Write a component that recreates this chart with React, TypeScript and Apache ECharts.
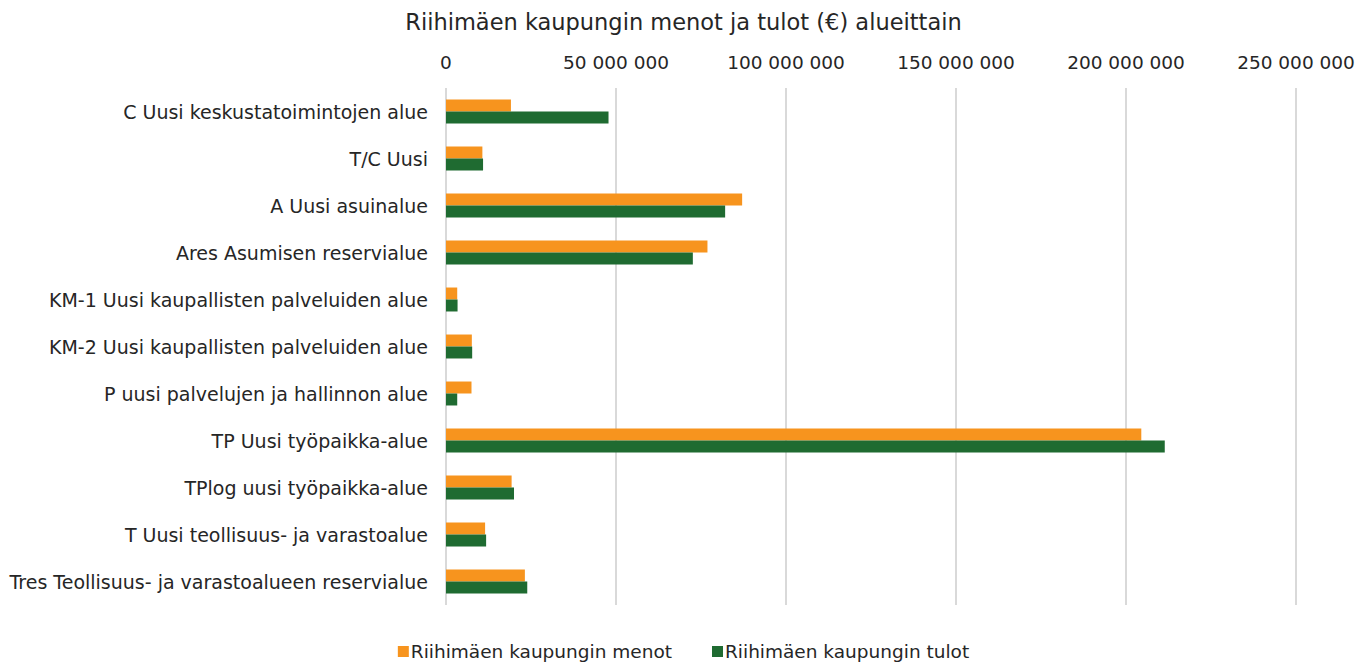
import React, { useEffect, useRef } from "react";
import * as echarts from "echarts";

const categories = [
  "C Uusi keskustatoimintojen alue",
  "T/C Uusi",
  "A Uusi asuinalue",
  "Ares Asumisen reservialue",
  "KM-1 Uusi kaupallisten palveluiden alue",
  "KM-2 Uusi kaupallisten palveluiden alue",
  "P uusi palvelujen ja hallinnon alue",
  "TP Uusi työpaikka-alue",
  "TPlog uusi työpaikka-alue",
  "T Uusi teollisuus- ja varastoalue",
  "Tres Teollisuus- ja varastoalueen reservialue",
];

const menot = [19100000, 10700000, 87100000, 76900000, 3300000, 7600000, 7500000, 204500000, 19300000, 11500000, 23200000];
const tulot = [47800000, 10900000, 82100000, 72600000, 3400000, 7700000, 3300000, 211400000, 20000000, 11800000, 23900000];

const seriesNames = ["Riihimäen kaupungin menot", "Riihimäen kaupungin tulot"];
const title = "Riihimäen kaupungin menot ja tulot (€) alueittain";

const fmt = (v: number) => String(Math.round(v)).replace(/\B(?=(\d{3})+(?!\d))/g, " ");

export default function App() {
  const ref = useRef<HTMLDivElement>(null);
  useEffect(() => {
    if (!ref.current) return;
    const chart = echarts.init(ref.current, undefined, { renderer: "svg" });
    const font = "DejaVu Sans, Verdana, sans-serif";
    chart.setOption({
      animation: false,
      textStyle: { fontFamily: font },
      title: {
        text: title,
        left: "center",
        top: 5,
        textStyle: { fontFamily: font, fontSize: 22.5, fontWeight: "normal", color: "#262626" },
      },
      legend: {
        bottom: 2,
        left: "center",
        itemWidth: 11,
        itemHeight: 11,
        itemGap: 40,
        icon: "rect",
        textStyle: { fontFamily: font, fontSize: 18.5, color: "#262626", padding: [0, 0, 0, -3] },
        data: seriesNames,
      },
      grid: { left: 446, right: 71, top: 88, bottom: 63, containLabel: false },
      xAxis: {
        type: "value",
        position: "top",
        min: 0,
        max: 250000000,
        interval: 50000000,
        axisLine: { show: false },
        axisTick: { show: false },
        axisLabel: { formatter: fmt, fontSize: 18.5, color: "#262626", margin: 16, fontFamily: font },
        splitLine: { lineStyle: { color: "#d9d9d9", width: 2 } },
      },
      yAxis: {
        type: "category",
        inverse: true,
        data: categories,
        axisLine: { show: false },
        axisTick: { show: false },
        axisLabel: { fontSize: 19, color: "#262626", margin: 18, fontFamily: font },
      },
      series: [
        {
          name: seriesNames[0],
          type: "bar",
          data: menot,
          itemStyle: { color: "#F7941E" },
          barGap: "0%",
          barCategoryGap: "49%",
        },
        {
          name: seriesNames[1],
          type: "bar",
          data: tulot,
          itemStyle: { color: "#1F6B31" },
          barGap: "0%",
          barCategoryGap: "49%",
        },
      ],
    });
    return () => chart.dispose();
  }, []);
  return <div ref={ref} style={{ position: "absolute", left: 0, top: 0, width: 1367, height: 668 }} />;
}
